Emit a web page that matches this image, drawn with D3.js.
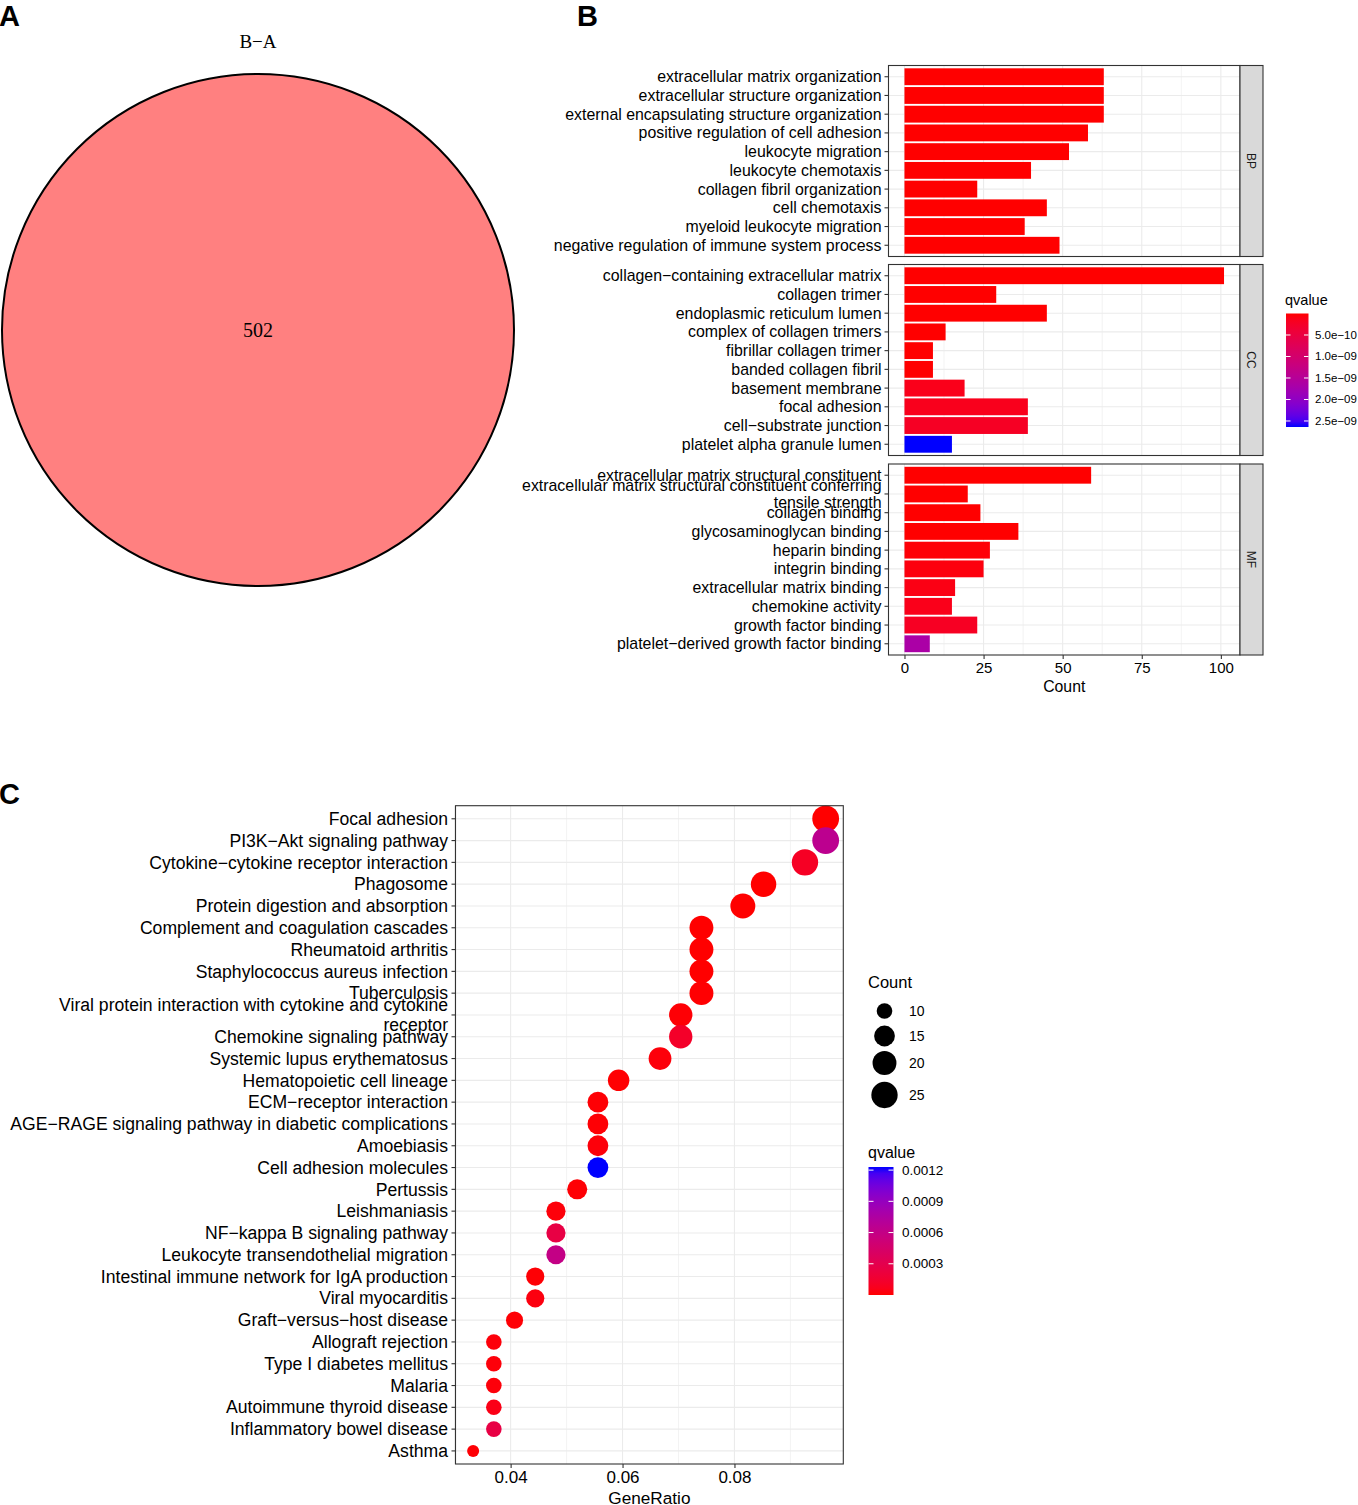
<!DOCTYPE html>
<html><head><meta charset="utf-8">
<script src="https://cdn.jsdelivr.net/npm/d3@7"></script>
<style>
html,body{margin:0;padding:0;background:#fff;}
svg{display:block;}
text{font-family:"Liberation Sans",Arial,sans-serif;}
</style></head>
<body>
<svg id="chart" width="1358" height="1505"></svg>
<script>
// ---------------- DATA ----------------
// Panel A (Venn)
const vennSetLabel = "B−A";
const vennCount = 502;

// Panel B (GO barplot)
const ontologies = ["BP", "CC", "MF"];
const bpTerms = ["extracellular matrix organization","extracellular structure organization","external encapsulating structure organization","positive regulation of cell adhesion","leukocyte migration","leukocyte chemotaxis","collagen fibril organization","cell chemotaxis","myeloid leukocyte migration","negative regulation of immune system process"];
const bpCount = [63, 63, 63, 58, 52, 40, 23, 45, 38, 49];
const bpQvalue = [1.2e-30, 1.2e-30, 1.2e-30, 3e-20, 5e-18, 2e-15, 4e-14, 3e-16, 1e-13, 2e-14];
const ccTerms = ["collagen−containing extracellular matrix","collagen trimer","endoplasmic reticulum lumen","complex of collagen trimers","fibrillar collagen trimer","banded collagen fibril","basement membrane","focal adhesion","cell−substrate junction","platelet alpha granule lumen"];
const ccCount = [101, 29, 45, 13, 9, 9, 19, 39, 39, 15];
const ccQvalue = [2e-48, 1.5e-19, 2.3e-15, 3e-14, 2e-12, 2e-12, 1.3e-10, 1.5e-10, 2.1e-10, 2.64e-9];
const mfTerms = ["extracellular matrix structural constituent","extracellular matrix structural constituent conferring tensile strength","collagen binding","glycosaminoglycan binding","heparin binding","integrin binding","extracellular matrix binding","chemokine activity","growth factor binding","platelet−derived growth factor binding"];
const mfCount = [59, 20, 24, 36, 27, 25, 16, 15, 23, 8];
const mfQvalue = [3e-30, 5e-20, 2e-14, 1e-13, 3e-11, 6e-11, 9e-11, 1.3e-10, 2.0e-10, 1.66e-9];
const goCountTicks = [0, 25, 50, 75, 100];
const goQTicks = [5.0e-10, 1.0e-9, 1.5e-9, 2.0e-9, 2.5e-9];
const goQTickLabels = ["5.0e−10", "1.0e−09", "1.5e−09", "2.0e−09", "2.5e−09"];

// Panel C (KEGG dotplot)
const keggTerms = ["Focal adhesion","PI3K−Akt signaling pathway","Cytokine−cytokine receptor interaction","Phagosome","Protein digestion and absorption","Complement and coagulation cascades","Rheumatoid arthritis","Staphylococcus aureus infection","Tuberculosis","Viral protein interaction with cytokine and cytokine receptor","Chemokine signaling pathway","Systemic lupus erythematosus","Hematopoietic cell lineage","ECM−receptor interaction","AGE−RAGE signaling pathway in diabetic complications","Amoebiasis","Cell adhesion molecules","Pertussis","Leishmaniasis","NF−kappa B signaling pathway","Leukocyte transendothelial migration","Intestinal immune network for IgA production","Viral myocarditis","Graft−versus−host disease","Allograft rejection","Type I diabetes mellitus","Malaria","Autoimmune thyroid disease","Inflammatory bowel disease","Asthma"];
const keggCount = [26, 26, 25, 23, 22, 20, 20, 20, 20, 19, 19, 18, 16, 15, 15, 15, 15, 14, 13, 13, 13, 12, 12, 11, 10, 10, 10, 10, 10, 9];
const keggGeneRatio = [0.0963, 0.0963, 0.0926, 0.0852, 0.0815, 0.0741, 0.0741, 0.0741, 0.0741, 0.0704, 0.0704, 0.0667, 0.0593, 0.0556, 0.0556, 0.0556, 0.0556, 0.0519, 0.0481, 0.0481, 0.0481, 0.0444, 0.0444, 0.0407, 0.0370, 0.0370, 0.0370, 0.0370, 0.0370, 0.0333];
const keggQvalue = [2e-7, 0.00065, 0.0001, 3e-7, 1e-6, 2e-7, 5e-7, 3e-7, 4e-6, 1e-5, 0.00012, 2e-5, 5e-6, 1e-5, 1e-5, 2e-5, 0.00123, 1e-5, 2e-5, 0.00025, 0.0006, 1e-5, 3e-5, 1e-5, 2e-5, 2e-5, 2e-5, 5e-5, 0.00025, 1e-5];
const ratioTicks = [0.04, 0.06, 0.08];
const ratioMinorTicks = [0.03, 0.05, 0.07, 0.09];
const sizeLegendCounts = [10, 15, 20, 25];
const keggQTicks = [0.0003, 0.0006, 0.0009, 0.0012];
const keggQTickLabels = ["0.0003", "0.0006", "0.0009", "0.0012"];

// ---------------- HELPERS ----------------
const svg = d3.select("#chart");
const GRID = "#EBEBEB", BORDER = "#333333";

function wrap(str, width) {
  const words = str.split(" "); const lines = []; let cur = "";
  words.forEach(w => {
    if (cur === "") cur = w;
    else if ((cur + " " + w).length <= width) cur += " " + w;
    else { lines.push(cur); cur = w; }
  });
  if (cur) lines.push(cur);
  return lines;
}
function labelText(g, x, y, str, fs, lh) {
  const lines = wrap(str, 55);
  const t = g.append("text").attr("text-anchor", "end").attr("font-size", fs).attr("fill", "#000");
  const n = lines.length;
  lines.forEach((l, i) => {
    t.append("tspan").attr("x", x).attr("y", y + (i - (n - 1) / 2) * lh + fs * 0.35).text(l);
  });
}
function panelLabel(x, y, s) {
  svg.append("text").attr("x", x).attr("y", y).attr("font-size", 29).attr("font-weight", "bold").text(s);
}
function expand(ext, m) { const d = ext[1] - ext[0]; return [ext[0] - d * m, ext[1] + d * m]; }

// ---------------- PANEL A ----------------
panelLabel(-1, 26, "A");
svg.append("text").attr("x", 258).attr("y", 48).attr("text-anchor", "middle")
  .style("font-family", "'Liberation Serif','Times New Roman',serif").attr("font-size", 19).text(vennSetLabel);
svg.append("circle").attr("cx", 258).attr("cy", 330).attr("r", 256)
  .attr("fill", "#FF8080").attr("stroke", "#000").attr("stroke-width", 2);
svg.append("text").attr("x", 258).attr("y", 337).attr("text-anchor", "middle")
  .style("font-family", "'Liberation Serif','Times New Roman',serif").attr("font-size", 20).text(vennCount);

// ---------------- PANEL B ----------------
panelLabel(577, 26, "B");
const goData = [
  {ont: "BP", terms: bpTerms, count: bpCount, q: bpQvalue},
  {ont: "CC", terms: ccTerms, count: ccCount, q: ccQvalue},
  {ont: "MF", terms: mfTerms, count: mfCount, q: mfQvalue}
];
const allCounts = bpCount.concat(ccCount, mfCount);
const allQ = bpQvalue.concat(ccQvalue, mfQvalue);
const bx = d3.scaleLinear().domain(expand([0, d3.max(allCounts)], 0.05)).range([888.5, 1240]);
const goColor = d3.scaleLinear().domain([0, d3.max(allQ)]).range(["red", "blue"]).interpolate(d3.interpolateLab);
const panelTops = [65.5, 264.5, 464];
const panelH = 191;
const gB = svg.append("g");
goData.forEach((f, fi) => {
  const top = panelTops[fi];
  const by = d3.scalePoint().domain(f.terms).range([top, top + panelH]).padding(0.6);
  const step = by.step();
  const g = gB.append("g");
  g.append("rect").attr("x", bx.range()[0]).attr("y", top).attr("width", bx.range()[1] - bx.range()[0]).attr("height", panelH).attr("fill", "#fff");
  [12.5, 37.5, 62.5, 87.5].forEach(v => g.append("line").attr("x1", bx(v)).attr("x2", bx(v)).attr("y1", top).attr("y2", top + panelH).attr("stroke", GRID).attr("stroke-width", 0.6));
  goCountTicks.forEach(v => g.append("line").attr("x1", bx(v)).attr("x2", bx(v)).attr("y1", top).attr("y2", top + panelH).attr("stroke", GRID).attr("stroke-width", 1.1));
  f.terms.forEach(t => g.append("line").attr("x1", bx.range()[0]).attr("x2", bx.range()[1]).attr("y1", by(t)).attr("y2", by(t)).attr("stroke", GRID).attr("stroke-width", 1.1));
  g.selectAll("rect.bar").data(f.terms).enter().append("rect").attr("class", "bar")
    .attr("x", bx(0)).attr("y", t => by(t) - step * 0.45)
    .attr("width", (t, i) => bx(f.count[i]) - bx(0)).attr("height", step * 0.9)
    .attr("fill", (t, i) => goColor(f.q[i]));
  g.append("rect").attr("x", bx.range()[0]).attr("y", top).attr("width", bx.range()[1] - bx.range()[0]).attr("height", panelH)
    .attr("fill", "none").attr("stroke", BORDER).attr("stroke-width", 1.1);
  g.append("rect").attr("x", 1240).attr("y", top).attr("width", 23).attr("height", panelH)
    .attr("fill", "#D9D9D9").attr("stroke", BORDER).attr("stroke-width", 1.1);
  g.append("text").attr("transform", `translate(${1251.5},${top + panelH / 2}) rotate(90)`)
    .attr("text-anchor", "middle").attr("dy", "0.35em").attr("font-size", 12).attr("fill", "#1A1A1A").text(f.ont);
  f.terms.forEach(t => {
    g.append("line").attr("x1", bx.range()[0] - 4).attr("x2", bx.range()[0]).attr("y1", by(t)).attr("y2", by(t)).attr("stroke", BORDER).attr("stroke-width", 1.1);
    labelText(g, bx.range()[0] - 7, by(t), t, 15.9, 17);
  });
});
const bBottom = panelTops[2] + panelH;
const bAxis = gB.append("g").attr("transform", `translate(0,${bBottom})`)
  .call(d3.axisBottom(bx).tickValues(goCountTicks).tickSize(4).tickPadding(3).tickSizeOuter(0));
bAxis.select(".domain").remove();
bAxis.selectAll("line").attr("stroke", BORDER).attr("stroke-width", 1.1);
bAxis.selectAll("text").attr("font-size", 15).attr("fill", "#000").style("font-family", "'Liberation Sans',Arial,sans-serif");
gB.append("text").attr("x", (bx.range()[0] + bx.range()[1]) / 2).attr("y", 692).attr("text-anchor", "middle").attr("font-size", 15.8).text("Count");

// legend B
const defs = svg.append("defs");
const gradB = defs.append("linearGradient").attr("id", "gradB").attr("x1", 0).attr("x2", 0).attr("y1", 0).attr("y2", 1);
d3.range(0, 1.0001, 0.05).forEach(t => gradB.append("stop").attr("offset", t).attr("stop-color", d3.interpolateLab("red", "blue")(t)));
const lgB = svg.append("g");
lgB.append("text").attr("x", 1285).attr("y", 305).attr("font-size", 14.5).text("qvalue");
const lBy = d3.scaleLinear().domain(goColor.domain()).range([313.5, 427]);
lgB.append("rect").attr("x", 1286).attr("y", 313.5).attr("width", 22.5).attr("height", 113.5).attr("fill", "url(#gradB)");
goQTicks.forEach((v, i) => {
  const y = lBy(v);
  lgB.append("line").attr("x1", 1286).attr("x2", 1290.5).attr("y1", y).attr("y2", y).attr("stroke", "#fff").attr("stroke-width", 1);
  lgB.append("line").attr("x1", 1304).attr("x2", 1308.5).attr("y1", y).attr("y2", y).attr("stroke", "#fff").attr("stroke-width", 1);
  lgB.append("text").attr("x", 1315).attr("y", y + 4).attr("font-size", 11.5).text(goQTickLabels[i]);
});

// ---------------- PANEL C ----------------
panelLabel(-1, 804, "C");
const cx = d3.scaleLinear().domain(expand(d3.extent(keggGeneRatio), 0.05)).range([455.5, 843.3]);
const cTop = 805.7, cBot = 1464;
const cy = d3.scalePoint().domain(keggTerms).range([cTop, cBot]).padding(0.6);
const cntNorm = d3.scaleLinear().domain(d3.extent(keggCount)).range([0, 1]);
const radius = d3.scaleLinear().domain([0, 1]).range([6, 13.4]);
const rOf = c => radius(Math.sqrt(Math.max(0, cntNorm(c))));
const keggColor = d3.scaleLinear().domain([0, d3.max(keggQvalue)]).range(["red", "blue"]).interpolate(d3.interpolateLab);
const gC = svg.append("g");
gC.append("rect").attr("x", 455.5).attr("y", cTop).attr("width", 843.3 - 455.5).attr("height", cBot - cTop).attr("fill", "#fff");
ratioMinorTicks.forEach(v => gC.append("line").attr("x1", cx(v)).attr("x2", cx(v)).attr("y1", cTop).attr("y2", cBot).attr("stroke", GRID).attr("stroke-width", 0.6));
ratioTicks.forEach(v => gC.append("line").attr("x1", cx(v)).attr("x2", cx(v)).attr("y1", cTop).attr("y2", cBot).attr("stroke", GRID).attr("stroke-width", 1.1));
keggTerms.forEach(t => gC.append("line").attr("x1", 455.5).attr("x2", 843.3).attr("y1", cy(t)).attr("y2", cy(t)).attr("stroke", GRID).attr("stroke-width", 1.1));
gC.selectAll("circle.dot").data(keggTerms).enter().append("circle").attr("class", "dot")
  .attr("cx", (t, i) => cx(keggGeneRatio[i])).attr("cy", t => cy(t))
  .attr("r", (t, i) => rOf(keggCount[i])).attr("fill", (t, i) => keggColor(keggQvalue[i]));
gC.append("rect").attr("x", 455.5).attr("y", cTop).attr("width", 843.3 - 455.5).attr("height", cBot - cTop)
  .attr("fill", "none").attr("stroke", BORDER).attr("stroke-width", 1.1);
keggTerms.forEach(t => {
  gC.append("line").attr("x1", 451.5).attr("x2", 455.5).attr("y1", cy(t)).attr("y2", cy(t)).attr("stroke", BORDER).attr("stroke-width", 1.1);
  labelText(gC, 448, cy(t), t, 17.6, 20);
});
const cAxis = gC.append("g").attr("transform", `translate(0,${cBot})`)
  .call(d3.axisBottom(cx).tickValues(ratioTicks).tickFormat(d3.format(".2f")).tickSize(4).tickPadding(3).tickSizeOuter(0));
cAxis.select(".domain").remove();
cAxis.selectAll("line").attr("stroke", BORDER).attr("stroke-width", 1.1);
cAxis.selectAll("text").attr("font-size", 17).attr("fill", "#000").style("font-family", "'Liberation Sans',Arial,sans-serif");
gC.append("text").attr("x", (455.5 + 843.3) / 2).attr("y", 1504).attr("text-anchor", "middle").attr("font-size", 17.2).text("GeneRatio");

// legend C: size
const lgC = svg.append("g");
lgC.append("text").attr("x", 868).attr("y", 988).attr("font-size", 16.5).text("Count");
const sizeY = [1011, 1036, 1063, 1095];
sizeLegendCounts.forEach((c, i) => {
  lgC.append("circle").attr("cx", 884.5).attr("cy", sizeY[i]).attr("r", rOf(c)).attr("fill", "#000");
  lgC.append("text").attr("x", 909).attr("y", sizeY[i] + 5).attr("font-size", 14).text(c);
});
// legend C: colour
const gradC = defs.append("linearGradient").attr("id", "gradC").attr("x1", 0).attr("x2", 0).attr("y1", 1).attr("y2", 0);
d3.range(0, 1.0001, 0.05).forEach(t => gradC.append("stop").attr("offset", t).attr("stop-color", d3.interpolateLab("red", "blue")(t)));
lgC.append("text").attr("x", 868).attr("y", 1158).attr("font-size", 16).text("qvalue");
const lCy = d3.scaleLinear().domain(keggColor.domain()).range([1295, 1167]);
lgC.append("rect").attr("x", 868.5).attr("y", 1167).attr("width", 25).attr("height", 128).attr("fill", "url(#gradC)");
keggQTicks.forEach((v, i) => {
  const y = lCy(v);
  lgC.append("line").attr("x1", 868.5).attr("x2", 873.5).attr("y1", y).attr("y2", y).attr("stroke", "#fff").attr("stroke-width", 1);
  lgC.append("line").attr("x1", 888.5).attr("x2", 893.5).attr("y1", y).attr("y2", y).attr("stroke", "#fff").attr("stroke-width", 1);
  lgC.append("text").attr("x", 902).attr("y", y + 4.5).attr("font-size", 13.5).text(keggQTickLabels[i]);
});
</script>
</body></html>
